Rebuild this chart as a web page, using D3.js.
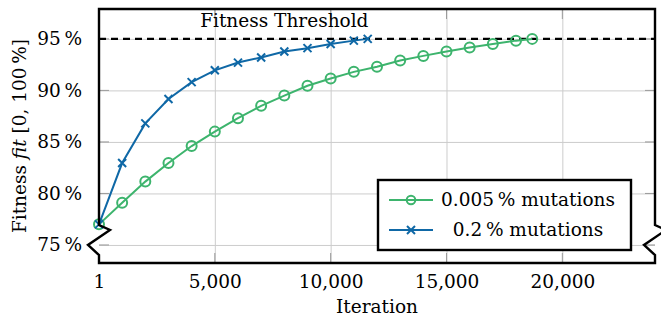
<!DOCTYPE html>
<html>
<head>
<meta charset="utf-8">
<script src="https://cdn.jsdelivr.net/npm/d3@7"></script>
<style>
  body { margin: 0; background: #fff; }
  text { font-family: "DejaVu Serif", serif; }
</style>
</head>
<body>
<div id="chart"></div>
<script>
// iterations at which the runs were sampled
const iterLow = [1, 1000, 2000, 3000, 4000, 5000, 6000, 7000, 8000, 9000, 10000,
  11000, 12000, 13000, 14000, 15000, 16000, 17000, 18000, 18700];
const fitLow = [77.0, 79.1, 81.15, 82.95, 84.6, 86.0, 87.3, 88.5, 89.5, 90.45, 91.15,
  91.8, 92.3, 92.9, 93.35, 93.77, 94.16, 94.5, 94.83, 95.0];

const iterHigh = [1, 1000, 2000, 3000, 4000, 5000, 6000, 7000, 8000, 9000, 10000, 11000, 11600];
const fitHigh = [77.0, 82.95, 86.8, 89.17, 90.8, 91.95, 92.7, 93.2, 93.77, 94.1, 94.5, 94.83, 95.0];

const seriesNames = ["0.005\u2009% mutations", "0.2\u2009% mutations"];
const xTicks = [1, 5000, 10000, 15000, 20000];
const yTicks = [75, 80, 85, 90, 95];
const threshold = 95;

const W = 661, H = 320;
const pl = 99, pr = 655, pt = 9, pb = 263;
const fs = 18.5;
const green = "#3db46d", blue = "#0f68a6";

const svg = d3.select("#chart").append("svg")
  .attr("width", W)
  .attr("height", H);

const x = d3.scaleLinear().domain([1, 24000]).range([pl, pr]);
const y = d3.scaleLinear().domain([73.25, 97.9]).range([pb, pt]);

// grid
svg.append("g")
  .attr("transform", `translate(0,${pb})`)
  .call(d3.axisBottom(x).tickValues(xTicks.slice(1)).tickSize(-(pb - pt)).tickFormat(""))
  .call(g => g.select(".domain").remove())
  .call(g => g.selectAll("line").attr("stroke", "#cccccc").attr("stroke-width", 1));
svg.append("g")
  .attr("transform", `translate(${pl},0)`)
  .call(d3.axisLeft(y).tickValues(yTicks).tickSize(-(pr - pl)).tickFormat(""))
  .call(g => g.select(".domain").remove())
  .call(g => g.selectAll("line").attr("stroke", "#cccccc").attr("stroke-width", 1));

// small inner ticks on every side
const tickLen = 10;
const tk = svg.append("g").attr("stroke", "#9a9a9a").attr("stroke-width", 1);
xTicks.slice(1).forEach(v => {
  tk.append("line").attr("x1", x(v)).attr("x2", x(v)).attr("y1", pb).attr("y2", pb - tickLen);
  tk.append("line").attr("x1", x(v)).attr("x2", x(v)).attr("y1", pt).attr("y2", pt + tickLen);
});
yTicks.forEach(v => {
  tk.append("line").attr("x1", pl).attr("x2", pl + tickLen).attr("y1", y(v)).attr("y2", y(v));
  tk.append("line").attr("x1", pr).attr("x2", pr - tickLen).attr("y1", y(v)).attr("y2", y(v));
});

// tick labels
svg.append("g")
  .attr("transform", `translate(0,${pb + 6})`)
  .call(d3.axisBottom(x).tickValues(xTicks).tickSize(0).tickFormat(d3.format(",")))
  .call(g => g.select(".domain").remove())
  .call(g => g.selectAll("text")
    .attr("font-family", "DejaVu Serif").attr("font-size", fs).attr("fill", "#000").attr("dy", "0.85em"));
svg.append("g")
  .attr("transform", `translate(${pl - 17},0)`)
  .call(d3.axisLeft(y).tickValues(yTicks).tickSize(0).tickFormat(d => d + "\u2009%"))
  .call(g => g.select(".domain").remove())
  .call(g => g.selectAll("text")
    .attr("font-family", "DejaVu Serif").attr("font-size", fs).attr("fill", "#000").attr("x", 0));

// threshold
svg.append("line")
  .attr("x1", pl).attr("x2", pr)
  .attr("y1", y(threshold)).attr("y2", y(threshold))
  .attr("stroke", "#000").attr("stroke-width", 2.4)
  .attr("stroke-dasharray", "7,5");
svg.append("text")
  .attr("x", x(8000)).attr("y", y(threshold) - 12)
  .attr("text-anchor", "middle")
  .attr("font-size", fs)
  .text("Fitness Threshold");

// series
const line = d3.line().x(d => x(d[0])).y(d => y(d[1]));
const lowPts = d3.zip(iterLow, fitLow);
const highPts = d3.zip(iterHigh, fitHigh);

svg.append("path").datum(lowPts)
  .attr("d", line).attr("fill", "none")
  .attr("stroke", green).attr("stroke-width", 2);
svg.append("g").selectAll("circle")
  .data(lowPts).enter().append("circle")
  .attr("cx", d => x(d[0])).attr("cy", d => y(d[1]))
  .attr("r", 5).attr("fill", "none")
  .attr("stroke", green).attr("stroke-width", 2);

svg.append("path").datum(highPts)
  .attr("d", line).attr("fill", "none")
  .attr("stroke", blue).attr("stroke-width", 2);
function cross(g, cx, cy, s) {
  g.append("path")
    .attr("d", `M${cx - s},${cy - s}L${cx + s},${cy + s}M${cx - s},${cy + s}L${cx + s},${cy - s}`)
    .attr("stroke", blue).attr("stroke-width", 2).attr("fill", "none");
}
const crosses = svg.append("g");
highPts.forEach(d => cross(crosses, x(d[0]), y(d[1]), 4));

// frame with axis break zigzags
const brk = [225, 230, 245, 255];
const frame = d3.path();
frame.moveTo(pl, pt);
frame.lineTo(pr, pt);
frame.lineTo(pr, brk[0]);
frame.lineTo(pr + 11, brk[1]);
frame.lineTo(pr - 11, brk[2]);
frame.lineTo(pr, brk[3]);
frame.lineTo(pr, pb);
frame.lineTo(pl, pb);
frame.lineTo(pl, brk[3]);
frame.lineTo(pl - 11, brk[2]);
frame.lineTo(pl + 11, brk[1]);
frame.lineTo(pl, brk[0]);
frame.closePath();
svg.append("path")
  .attr("d", frame.toString())
  .attr("fill", "none").attr("stroke", "#000")
  .attr("stroke-width", 2.4).attr("stroke-linejoin", "miter");

// axis titles
svg.append("text")
  .attr("x", (pl + pr) / 2).attr("y", 313)
  .attr("text-anchor", "middle").attr("font-size", fs)
  .text("Iteration");
const yl = svg.append("text")
  .attr("transform", `translate(26,${(pt + pb) / 2}) rotate(-90)`)
  .attr("text-anchor", "middle").attr("font-size", fs);
yl.append("tspan").text("Fitness ");
yl.append("tspan").attr("font-style", "italic").text("fit");
yl.append("tspan").text(" [0, 100\u2009%]");

// legend
const lg = svg.append("g").attr("transform", "translate(378,180)");
lg.append("rect")
  .attr("width", 253).attr("height", 70)
  .attr("fill", "#fff").attr("stroke", "#000").attr("stroke-width", 2.4);
const rows = [{ name: seriesNames[0], color: green, mark: "o" },
              { name: seriesNames[1], color: blue, mark: "x" }];
rows.forEach((r, i) => {
  const cy = 20 + i * 30;
  lg.append("line").attr("x1", 11).attr("x2", 55).attr("y1", cy).attr("y2", cy)
    .attr("stroke", r.color).attr("stroke-width", 2);
  if (r.mark === "o") {
    lg.append("circle").attr("cx", 33).attr("cy", cy).attr("r", 4.3)
      .attr("fill", "none").attr("stroke", r.color).attr("stroke-width", 2);
  } else {
    lg.append("path")
      .attr("d", `M29,${cy - 4}L37,${cy + 4}M29,${cy + 4}L37,${cy - 4}`)
      .attr("stroke", r.color).attr("stroke-width", 2);
  }
  lg.append("text").attr("x", 150).attr("y", cy).attr("dy", "0.35em")
    .attr("text-anchor", "middle").attr("font-size", fs)
    .text(r.name);
});
</script>
</body>
</html>
